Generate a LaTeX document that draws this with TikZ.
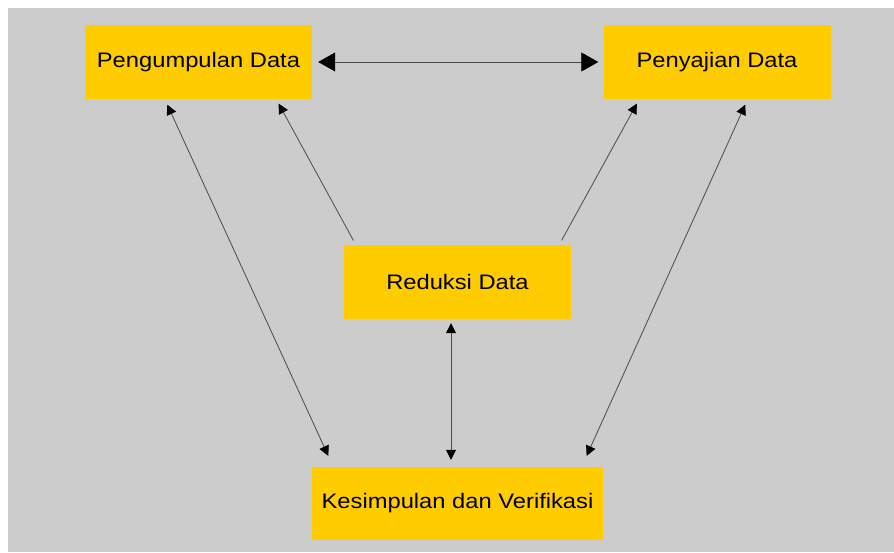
\documentclass[tikz,border=0pt]{standalone}
\usepackage{fontspec}
\setmainfont[FakeStretch=1.13]{Liberation Sans}
\usetikzlibrary{positioning,arrows.meta}

\definecolor{bgGrey}{HTML}{CCCCCC}
\definecolor{boxYellow}{HTML}{FFCC00}
\definecolor{lineGrey}{HTML}{4A4A4A}

\tikzset{
  stagebox/.style={fill=boxYellow, draw=none, inner sep=0pt,
    minimum width=227pt, minimum height=74pt,
    font=\fontsize{21}{25}\selectfont, text=black},
  link/.style={draw=lineGrey, line width=0.8pt},
  smalltip/.style={-{Triangle[length=10pt,width=10pt,color=black]}},
  bothsmall/.style={{Triangle[length=10pt,width=10pt,color=black]}-{Triangle[length=10pt,width=10pt,color=black]}},
  bigboth/.style={{Triangle[length=17pt,width=19pt,color=black]}-{Triangle[length=17pt,width=19pt,color=black]}},
}

\begin{document}
\begin{tikzpicture}[x=1pt, y=-1pt]
    % page and grey backdrop
    \fill[white] (0,0) rectangle (894,552);
    \fill[bgGrey] (8,8) rectangle (894,552);
    \useasboundingbox (0,0) rectangle (894,552);

    \node[stagebox] (peng) at (198.5,62) {Pengumpulan Data};
    \node[stagebox] (peny) at (717,62) {Penyajian Data};
    \node[stagebox] (red) at (457.5,282) {Reduksi Data};
    \node[stagebox, minimum width=291pt, minimum height=73pt] (kes) at (457.5,503.5) {Kesimpulan dan Verifikasi};

    % top link
    \draw[link, bigboth, shorten <=6pt, shorten >=5pt]
      (peng.east) -- (peny.west);

    % reduksi up to the two upper boxes
    \draw[link, smalltip, shorten <=5pt, shorten >=5pt]
      ([xshift=12pt]red.north west) -- ([xshift=-36pt]peng.south east);
    \draw[link, smalltip, shorten <=5pt, shorten >=5pt]
      ([xshift=-12pt]red.north east) -- ([xshift=36pt]peny.south west);

    % outer links down to kesimpulan
    \draw[link, bothsmall, shorten <=6pt, shorten >=12pt]
      ([xshift=80pt]peng.south west) -- ([xshift=21.5pt]kes.north west);
    \draw[link, bothsmall, shorten <=6pt, shorten >=12pt]
      ([xshift=-83pt]peny.south east) -- ([xshift=-21.5pt]kes.north east);

    % reduksi <-> kesimpulan
    \draw[link, bothsmall, shorten <=4pt, shorten >=7pt]
      ([xshift=-6.5pt]red.south) -- ([xshift=-6.5pt]kes.north);
\end{tikzpicture}
\end{document}
